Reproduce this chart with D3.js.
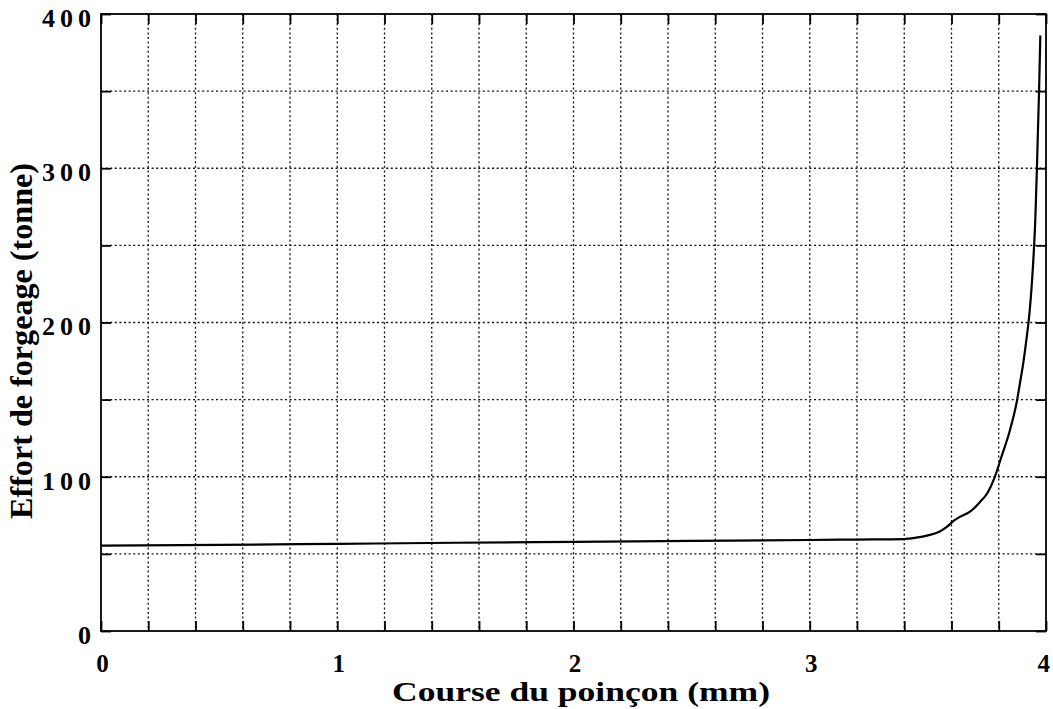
<!DOCTYPE html>
<html>
<head>
<meta charset="utf-8">
<script src="https://cdn.jsdelivr.net/npm/d3@7"></script>
<style>
  html, body { margin: 0; padding: 0; background: #fff; }
  svg { display: block; }
  text { font-family: "Liberation Serif", "Times New Roman", serif; font-weight: bold; fill: #000; }
</style>
</head>
<body>
<svg id="chart" width="1053" height="709"></svg>
<script>
// Punch stroke (mm) and forging load (tonne)
const course = [0, 0.5, 1, 1.5, 2, 2.5, 3, 3.2, 3.4, 3.45, 3.5, 3.55, 3.58, 3.61, 3.635, 3.68, 3.72, 3.75, 3.783, 3.811, 3.847, 3.878, 3.889, 3.905, 3.918, 3.93, 3.94, 3.948, 3.955, 3.961, 3.966, 3.971, 3.976];
const effort = [55.3, 55.8, 56.5, 57.2, 57.8, 58.4, 59, 59.3, 59.6, 60.5, 62, 64.5, 67.5, 71.5, 74, 77.5, 83.5, 89, 99.8, 112.8, 130, 150, 160, 175, 190, 206, 225, 245, 268, 297, 325, 352, 386];

const xLabelTicks = [0, 1, 2, 3, 4];
const yLabelTicks = [0, 100, 200, 300, 400];
const xGridStep = 0.2;
const yGridStep = 50;

const W = 1053, H = 709;
const margin = { top: 14, right: 7, bottom: 78, left: 101 };
const iw = W - margin.left - margin.right;
const ih = H - margin.top - margin.bottom;

const svg = d3.select("#chart");
const g = svg.append("g").attr("transform", `translate(${margin.left},${margin.top})`);

const x = d3.scaleLinear().domain([0, 4]).range([0, iw]);
const y = d3.scaleLinear().domain([0, 400]).range([ih, 0]);

const xGrid = d3.range(xGridStep, 4 - 1e-9, xGridStep);
const yGrid = d3.range(yGridStep, 400 - 1e-9, yGridStep);
const xAll = d3.range(0, 4 + 1e-9, xGridStep);
const yAll = d3.range(0, 400 + 1e-9, yGridStep);

// dotted grid
g.append("g").selectAll("line").data(xGrid).join("line")
  .attr("x1", d => x(d)).attr("x2", d => x(d))
  .attr("y1", 0).attr("y2", ih)
  .attr("stroke", "#111").attr("stroke-width", 1.3).attr("stroke-dasharray", "2,2.6");
g.append("g").selectAll("line").data(yGrid).join("line")
  .attr("x1", 0).attr("x2", iw)
  .attr("y1", d => y(d)).attr("y2", d => y(d))
  .attr("stroke", "#111").attr("stroke-width", 1.3).attr("stroke-dasharray", "2,2.6");

// inward ticks on all four sides
function styleAxis(sel) {
  sel.select(".domain").remove();
  sel.selectAll(".tick line").attr("stroke", "#000").attr("stroke-width", 1.8);
}
g.append("g").attr("transform", `translate(0,${ih})`)
  .call(d3.axisBottom(x).tickValues(xAll).tickSize(-10).tickFormat(""))
  .call(styleAxis);
g.append("g")
  .call(d3.axisTop(x).tickValues(xAll).tickSize(-10).tickFormat(""))
  .call(styleAxis);
g.append("g")
  .call(d3.axisLeft(y).tickValues(yAll).tickSize(-10).tickFormat(""))
  .call(styleAxis);
g.append("g").attr("transform", `translate(${iw},0)`)
  .call(d3.axisRight(y).tickValues(yAll).tickSize(-10).tickFormat(""))
  .call(styleAxis);

// frame
g.append("rect").attr("x", 0).attr("y", 0).attr("width", iw).attr("height", ih)
  .attr("fill", "none").attr("stroke", "#000").attr("stroke-width", 1.8);

// tick labels
const xLab = g.append("g").attr("transform", `translate(1,${ih})`)
  .call(d3.axisBottom(x).tickValues(xLabelTicks).tickSize(0).tickPadding(23).tickFormat(d3.format("d")));
xLab.select(".domain").remove();
xLab.selectAll("text").attr("font-size", 25).attr("fill", "#000");
xLab.selectAll(".tick").filter(d => d === 4).select("text").attr("dx", "-0.15em");

const yLab = g.append("g")
  .call(d3.axisLeft(y).tickValues(yLabelTicks).tickSize(0).tickPadding(5).tickFormat(d3.format("d")));
yLab.select(".domain").remove();
yLab.selectAll("text").attr("font-size", 26).attr("fill", "#000").attr("dy", "0.48em")
  .style("letter-spacing", "5px");

// curve
const line = d3.line().x((d, i) => x(course[i])).y(d => y(d)).curve(d3.curveMonotoneX);
g.append("path").datum(effort)
  .attr("d", line)
  .attr("fill", "none").attr("stroke", "#000").attr("stroke-width", 2.2);

// axis titles
svg.append("text")
  .attr("x", 581).attr("y", 701)
  .attr("text-anchor", "middle").attr("font-size", 27)
  .attr("textLength", 378).attr("lengthAdjust", "spacingAndGlyphs")
  .text("Course du poinçon (mm)");

svg.append("text")
  .attr("transform", "translate(32,341) rotate(-90)")
  .attr("text-anchor", "middle").attr("font-size", 31)
  .attr("textLength", 356).attr("lengthAdjust", "spacingAndGlyphs")
  .text("Effort de forgeage (tonne)");
</script>
</body>
</html>
